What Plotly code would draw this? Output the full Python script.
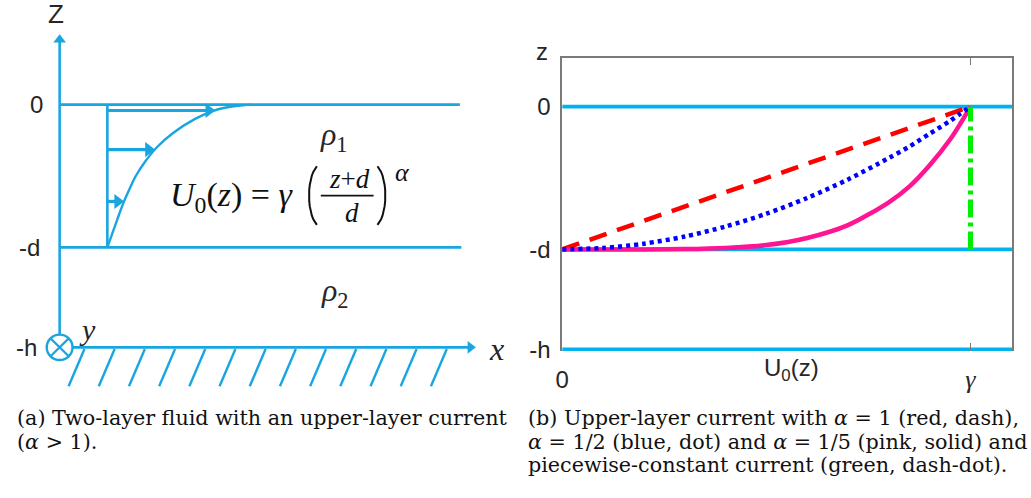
import numpy as np
import plotly.graph_objects as go

W, H_PX = 1031, 498

# Depth levels in units of the upper-layer thickness d: surface, interface, bottom
Z_LEVELS = [0.0, -1.0, -1.7]
Z_LABELS = ["0", "-d", "-h"]
GAMMA = 1.0
X_MAX = 1.102

# Panel (b): upper-layer current profiles U0 (units of gamma) against z
U_LINEAR = [0.0, 1.0]
Z_LINEAR = [-1.0, 0.0]
U_SAMPLES = [0.0, 0.1, 0.2, 0.3, 0.4, 0.5, 0.6, 0.7, 0.8, 0.85, 0.9, 0.95, 0.975, 1.0]
Z_HALF = [-1.0, -0.99, -0.96, -0.91, -0.84, -0.75, -0.64, -0.51, -0.36, -0.28, -0.19, -0.10, -0.05, 0.0]
Z_FIFTH = [-1.0, -1.0, -1.0, -0.998, -0.99, -0.97, -0.92, -0.83, -0.67, -0.56, -0.41, -0.23, -0.12, 0.0]
U_STEP = [1.0, 1.0]
Z_STEP = [-1.0, 0.0]

# Panel (a): sketched profile (offset from its zero line) and arrow levels
SKETCH_Z = [-1.0, -0.9, -0.8, -0.7, -0.6, -0.5, -0.4, -0.3, -0.2, -0.1, -0.05, -0.02, 0.0]
SKETCH_U = [0.0, 0.035, 0.070, 0.106, 0.149, 0.196, 0.260, 0.340, 0.451, 0.605, 0.712, 0.818, 0.988]
SKETCH_ARROW_Z = [-0.041, -0.315, -0.678]
SKETCH_BASE = 0.329

CAPTION_A = ["(a) Two-layer fluid with an upper-layer current",
             "(<i>α</i> > 1)."]
CAPTION_B = ["(b) Upper-layer current with <i>α</i> = 1 (red, dash),",
             "<i>α</i> = 1/2 (blue, dot) and <i>α</i> = 1/5 (pink, solid) and",
             "piecewise-constant current (green, dash-dot)."]

SANS = "Liberation Sans"
SERIF = "Liberation Serif"
CAP_FONT = "DejaVu Serif"
INK = "#262626"
CYAN_A = "#19A6E0"
CYAN_B = "#00B2F0"
FRAME = "#7a7a7a"
PX = 146.0  # schematic units -> pixels

fig = go.Figure()

# ---- panel (b) ----
for z in Z_LEVELS:
    fig.add_trace(go.Scatter(x=[0, X_MAX], y=[z, z], mode="lines",
                             line=dict(color=CYAN_B, width=3.6), hoverinfo="skip"))
fig.add_trace(go.Scatter(x=U_LINEAR, y=Z_LINEAR, mode="lines",
                         line=dict(color="#FF0000", width=4.5, dash="18px,11px")))
fig.add_trace(go.Scatter(x=U_SAMPLES, y=Z_FIFTH, mode="lines",
                         line=dict(color="#FF1493", width=4.5, shape="spline", smoothing=0.8)))
fig.add_trace(go.Scatter(x=U_SAMPLES, y=Z_HALF, mode="lines",
                         line=dict(color="#0000FF", width=4.5, dash="4px,4px",
                                   shape="spline", smoothing=0.8)))
fig.add_trace(go.Scatter(x=U_STEP, y=Z_STEP, mode="lines",
                         line=dict(color="#00EE00", width=5, dash="18px,5px,4px,5px")))
fig.add_trace(go.Scatter(x=[], y=[], xaxis="x3", yaxis="y"))

# ---- panel (a) schematic ----
annotations = []
shapes = []


def label(x, y, text, size, family=SANS, color=INK, xanchor="center",
          yanchor="middle", xref="x2", yref="y2"):
    annotations.append(dict(x=x, y=y, text=text, showarrow=False, xref=xref, yref=yref,
                            xanchor=xanchor, yanchor=yanchor,
                            font=dict(family=family, size=size, color=color)))


def arrow(x0, y0, x1, y1, width, size):
    """Straight arrow (horizontal or vertical) ending with a triangular head at (x1, y1)."""
    r = size / 2.0 / PX
    if x1 != x0:
        cx, cy, sym = x1 - r, y1, "triangle-right"
    else:
        cx, cy, sym = x0, y1 - r, "triangle-up"
    fig.add_trace(go.Scatter(x=[x0, cx], y=[y0, cy], mode="lines",
                             line=dict(color=CYAN_A, width=width),
                             xaxis="x2", yaxis="y2", hoverinfo="skip"))
    fig.add_trace(go.Scatter(x=[cx], y=[cy], mode="markers",
                             marker=dict(symbol=sym, size=size, color=CYAN_A, line=dict(width=0)),
                             xaxis="x2", yaxis="y2", hoverinfo="skip", cliponaxis=False))


def seg(x0, y0, x1, y1, width=2.6, color=CYAN_A):
    shapes.append(dict(type="line", xref="x2", yref="y2", x0=x0, y0=y0, x1=x1, y1=y1,
                       line=dict(color=color, width=width), layer="above"))


bottom = Z_LEVELS[2]
# vertical z axis and horizontal x axis along the bottom
arrow(0, bottom, 0, 0.493, 2.6, 11)
arrow(0, bottom, 2.87, bottom, 2.6, 11)
# free surface and interface
seg(0, Z_LEVELS[0], 2.76, Z_LEVELS[0])
seg(0, Z_LEVELS[1], 2.77, Z_LEVELS[1])
# hatching of the rigid bottom
for k in range(13):
    xt = (25 + 30.4 * k) / PX
    seg(xt, -1.712, xt - 16 / PX, -1.973, width=2.4)
# y axis pointing into the page
r = 0.089
shapes.append(dict(type="circle", xref="x2", yref="y2", x0=-r, x1=r, y0=bottom - r,
                   y1=bottom + r, fillcolor="white", line=dict(color=CYAN_A, width=2.4),
                   layer="above"))
c = r * 0.707
seg(-c, bottom - c, c, bottom + c, width=2.2)
seg(-c, bottom + c, c, bottom - c, width=2.2)

# velocity profile
fig.add_trace(go.Scatter(x=[SKETCH_BASE, SKETCH_BASE], y=[Z_LEVELS[1], Z_LEVELS[0]],
                         mode="lines", line=dict(color=CYAN_A, width=2.6),
                         xaxis="x2", yaxis="y2", hoverinfo="skip"))
fig.add_trace(go.Scatter(x=[SKETCH_BASE + u for u in SKETCH_U], y=SKETCH_Z, mode="lines",
                         line=dict(color=CYAN_A, width=2.4, shape="spline", smoothing=1.0),
                         xaxis="x2", yaxis="y2", hoverinfo="skip"))
for z in SKETCH_ARROW_Z:
    tip = SKETCH_BASE + float(np.interp(z, SKETCH_Z, SKETCH_U))
    arrow(SKETCH_BASE, z, tip, z, 3.2, 13)

# level labels
for z, t, xr in zip(Z_LEVELS, Z_LABELS, [-0.103, -0.123, -0.144]):
    label(xr, z, t, 24, xanchor="right")
label(-0.027, 0.637, "Z", 26)
label(3.014, -1.712, "<i>x</i>", 32, family=SERIF)
label(0.192, -1.575, "<i>y</i>", 30, family=SERIF)
label(1.890, -0.226, "<i>ρ</i><sub>1</sub>", 32, family=SERIF)
label(1.897, -1.315, "<i>ρ</i><sub>2</sub>", 32, family=SERIF)

# U0(z) = gamma ((z+d)/d)^alpha
label(0.747, -0.644, "<i>U</i><sub>0</sub>(<i>z</i>) = <i>γ</i>", 34, family=SERIF,
      color="#111", xanchor="left")
# tall bracket pair drawn as thin arcs around the fraction
th = np.linspace(-1.0, 1.0, 15)
for xc, sgn in ((1.774, -1), (2.192, 1)):
    fig.add_trace(go.Scatter(x=xc + sgn * 0.085 * np.cos(th * 1.2) - sgn * 0.085 * np.cos(1.2),
                             y=-0.637 + 0.205 * np.sin(th * 1.2) / np.sin(1.2),
                             mode="lines", line=dict(color="#111", width=2.0),
                             xaxis="x2", yaxis="y2", hoverinfo="skip"))
label(2.0, -0.521, "<i>z</i>+<i>d</i>", 27, family=SERIF, color="#111")
label(2.014, -0.757, "<i>d</i>", 27, family=SERIF, color="#111")
seg(1.801, -0.637, 2.165, -0.637, width=1.8, color="#111")
label(2.363, -0.473, "<i>α</i>", 26, family=SERIF, color="#111")

# ---- panel (b) labels ----
label(539 / W, 1 - 53 / H_PX, "z", 24, xref="paper", yref="paper")
label(790 / W, 1 - 378 / H_PX, "U<sub>0</sub>(z)", 24, xref="paper", yref="paper")

# ---- captions ----
for i, line in enumerate(CAPTION_A):
    label(8 / W, 1 - (427 + 24.5 * i) / H_PX, line, 20.7, family=CAP_FONT, color="#111",
          xanchor="left", xref="paper", yref="paper")
for i, line in enumerate(CAPTION_B):
    label(523 / W, 1 - (427 + 24.5 * i) / H_PX, line, 20.7, family=CAP_FONT, color="#111",
          xanchor="left", xref="paper", yref="paper")

y_bot, y_top = -1.713, 0.34
fig.update_layout(
    width=W, height=H_PX, margin=dict(l=0, r=0, t=0, b=0),
    paper_bgcolor="white", plot_bgcolor="white", showlegend=False,
    xaxis=dict(domain=[559 / W, 1012 / W], range=[0, X_MAX], anchor="y",
               tickvals=[0, GAMMA],
               ticktext=["0", "<span style='font-family:Liberation Serif;font-size:26px'><i>γ</i></span>"],
               ticks="inside", ticklen=8, tickcolor=FRAME, tickwidth=1.2,
               showline=False, showgrid=False, zeroline=False,
               tickfont=dict(family=SANS, size=24, color=INK), ticklabelstandoff=12,
               fixedrange=True),
    xaxis3=dict(overlaying="x", matches="x", side="top", anchor="y",
                showline=True, linecolor=FRAME, linewidth=1.5, ticks="inside",
                tickvals=[GAMMA], ticklen=7, tickcolor=FRAME, showticklabels=False,
                showgrid=False, zeroline=False),
    yaxis=dict(domain=[(H_PX - 359.1) / H_PX, (H_PX - 59.4) / H_PX], range=[y_bot, y_top],
               tickvals=Z_LEVELS, ticktext=Z_LABELS, showline=True, mirror=True,
               linecolor=FRAME, linewidth=1.5, ticks="", showgrid=False, zeroline=False,
               tickfont=dict(family=SANS, size=24, color=INK), ticklabelstandoff=5,
               fixedrange=True),
    xaxis2=dict(domain=[0, 520 / W], range=[-0.3630, 3.1986], visible=False, anchor="y2"),
    yaxis2=dict(domain=[98 / H_PX, 1], range=[-2.0068, 0.7329], visible=False, anchor="x2"),
    annotations=annotations, shapes=shapes,
)

fig.write_html("out.html")
